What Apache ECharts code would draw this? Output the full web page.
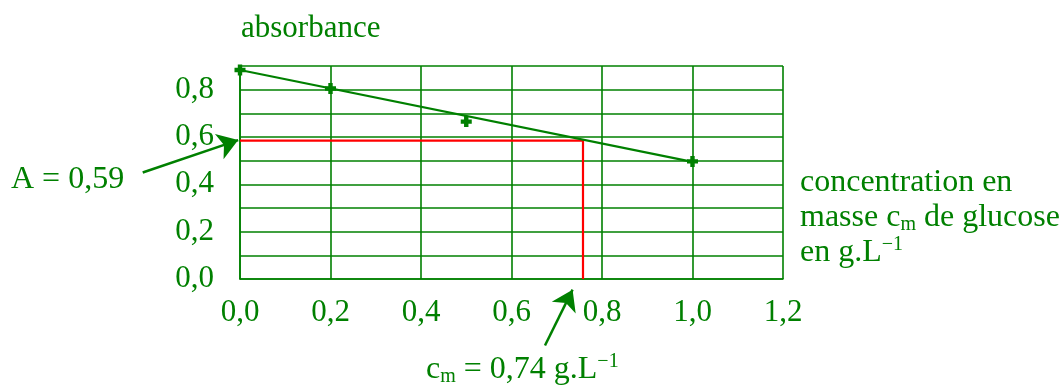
<!DOCTYPE html>
<html>
<head>
<meta charset="utf-8">
<script src="https://cdn.jsdelivr.net/npm/echarts@6/dist/echarts.min.js"></script>
<style>
html,body{margin:0;padding:0;background:#fff;}
#c{width:1063px;height:385px;}
</style>
</head>
<body>
<div id="c"></div>
<script>
// ---- data ----
const measuredPoints = [[0.0, 0.883], [0.2, 0.805], [0.5, 0.665], [1.0, 0.497]];
const fitLine = [[0.0, 0.883], [1.0, 0.495]];
const readingPath = [[0.0, 0.585], [0.758, 0.585], [0.758, 0.0]];
const arrowA = [[-0.215, 0.450], [-0.004, 0.587]];
const arrowC = [[0.674, -0.281], [0.735, -0.045]];
const xTicks = [0.0, 0.2, 0.4, 0.6, 0.8, 1.0, 1.2];
const yTicks = [0.0, 0.2, 0.4, 0.6, 0.8];

const GREEN = '#008000';
const FONT = '"Liberation Serif", "Times New Roman", serif';
const fmt = v => v.toFixed(1).replace('.', ',');

const chart = echarts.init(document.getElementById('c'), null, {renderer: 'canvas'});
const plusPath = 'path://M3,0H7V3H10V7H7V10H3V7H0V3H3Z';

const richSubSup = {
  sub: {fontFamily: FONT, fontSize: 20, fill: GREEN, verticalAlign: 'bottom', lineHeight: 18},
  sup: {fontFamily: FONT, fontSize: 20, fill: GREEN, verticalAlign: 'top', lineHeight: 23}
};

const option = {
  animation: false,
  backgroundColor: '#ffffff',
  grid: {left: 240, right: 280, top: 66, bottom: 106},
  xAxis: {
    type: 'value', min: 0, max: 1.2, interval: 0.2,
    axisLine: {show: true, lineStyle: {color: GREEN, width: 1.6}},
    axisTick: {show: false},
    splitLine: {show: true, lineStyle: {color: GREEN, width: 1.6}},
    axisLabel: {
      color: GREEN, fontFamily: FONT, fontSize: 31, margin: 18,
      formatter: v => xTicks.some(t => Math.abs(t - v) < 1e-6) ? fmt(v) : ''
    }
  },
  yAxis: {
    type: 'value', min: 0, max: 0.9, interval: 0.1,
    axisLine: {show: true, lineStyle: {color: GREEN, width: 1.6}},
    axisTick: {show: false},
    splitLine: {show: true, lineStyle: {color: GREEN, width: 1.6}},
    axisLabel: {
      color: GREEN, fontFamily: FONT, fontSize: 31, margin: 26,
      formatter: v => yTicks.some(t => Math.abs(t - v) < 1e-6) ? fmt(v) : ''
    }
  },
  graphic: [
    {type: 'text', left: 241, top: 13, style: {text: 'absorbance', fill: GREEN, font: '31px ' + FONT}},
    {type: 'text', left: 11, top: 164, style: {text: 'A = 0,59', fill: GREEN, font: '32px ' + FONT}},
    {type: 'text', left: 800, top: 165, style: {
      text: 'concentration en\nmasse c{sub|m} de glucose\nen g.L{sup|\u22121}',
      fill: GREEN, fontFamily: FONT, fontSize: 32, lineHeight: 35,
      rich: richSubSup
    }},
    {type: 'text', left: 426, top: 352, style: {
      text: 'c{sub|m} = 0,74 g.L{sup|\u22121}',
      fill: GREEN, fontFamily: FONT, fontSize: 32, lineHeight: 35,
      rich: richSubSup
    }}
  ],
  series: [
    {
      type: 'line', data: readingPath, showSymbol: false, symbol: 'none',
      lineStyle: {color: '#ff0000', width: 2.2}, z: 3, silent: true
    },
    {
      type: 'line', data: fitLine, showSymbol: false, symbol: 'none',
      lineStyle: {color: GREEN, width: 2.2}, z: 4, silent: true, clip: false
    },
    {
      type: 'scatter', data: measuredPoints, symbol: plusPath, symbolSize: 11,
      itemStyle: {color: GREEN, opacity: 1}, z: 5, clip: false, silent: true
    },
    {
      type: 'lines', coordinateSystem: 'cartesian2d', clip: false, z: 6, silent: true,
      symbol: ['none', 'arrow'], symbolSize: [0, 20],
      lineStyle: {color: GREEN, width: 2.5, opacity: 1, curveness: 0},
      data: [{coords: arrowA}, {coords: arrowC}]
    }
  ]
};
chart.setOption(option);
</script>
</body>
</html>
